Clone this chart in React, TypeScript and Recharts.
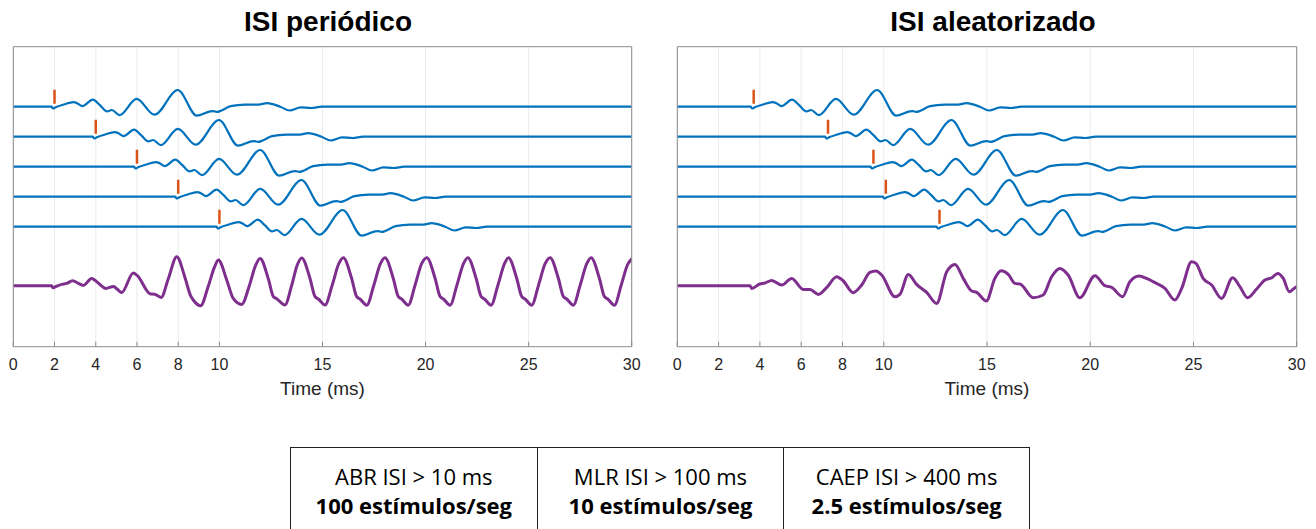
import React from 'react';
import { LineChart, Line, XAxis, YAxis, CartesianGrid, Label } from 'recharts';

// time axis (ms)
const xTicks = [0, 2, 4, 6, 8, 10, 15, 20, 25, 30];

// click times (ms) for the five single sweeps
const periodicOnsets = [2, 4, 6, 8, 10];
const randomOnsets = [3.7, 7.3, 9.5, 10.1, 12.7];

// response to a single click: [ms after click, amplitude]
const abrWave: [number, number][] = [
  [-0.15, 0], [-0.07, -1.8], [0.05, -0.6], [0.45, 2.2], [0.92, 4.5], [1.1, 3.5],
  [1.35, 0.6], [1.86, 7], [2.2, 1.5], [2.55, -4.6], [2.78, -3.3], [3.15, -8.5],
  [3.98, 7.8], [4.85, -8], [5.98, 16.7], [6.9, -9], [7.55, -4.7], [7.7, -4.4],
  [7.87, -5.2], [8.55, 0.5], [9.25, 2], [9.9, 2.1], [10.3, 3.5], [10.95, 0],
  [11.4, -3.8], [11.95, -0.7], [12.45, -1.3], [12.97, 0],
];

// recorded (overlapped) response, periodic ISI: [ms, amplitude]
const periodicSum: [number, number][] = [
  [0, 0], [1.86, 0], [1.92, -2], [2.1, -0.5], [2.35, 1.3], [2.59, 2.3], [2.88, 5],
  [3.16, 2.3], [3.4, 0.3], [3.8, 7.3], [4.05, 4], [4.5, -2.7], [4.85, -0.7],
  [5.26, -6.7], [5.82, 12.7], [6.02, 10], [6.63, -8], [6.88, -8.7], [7.17, -11.7],
  [7.52, 7], [7.93, 29], [8.33, 8], [8.6, -10], [8.73, -14.3], [9.09, -20],
  [9.45, -1], [9.75, 18], [9.95, 25.7], [10.35, 6], [10.67, -12.7], [11.08, -18.7],
  [11.45, 0], [11.75, 20], [11.97, 27.3], [12.37, 7], [12.62, -11], [12.78, -13],
  [13.18, -19.3], [13.5, 0], [13.78, 21], [13.99, 27.8], [14.39, 7.5], [14.64, -11],
  [14.8, -13.3], [15.12, -19.3], [15.47, 0.5], [15.79, 22], [16.01, 28],
  [16.41, 7.5], [16.66, -11], [16.82, -13.3], [17.15, -19.5], [17.49, 0.5],
  [17.81, 22], [18.03, 28], [18.43, 7.5], [18.68, -11], [18.84, -13.3],
  [19.16, -19.5], [19.49, 0.5], [19.81, 22], [20.06, 28], [20.46, 7.5],
  [20.71, -11], [20.87, -13.3], [21.19, -19.5], [21.52, 0.5], [21.84, 22],
  [22.05, 28], [22.45, 7.5], [22.7, -11], [22.86, -13.3], [23.18, -19.5],
  [23.51, 0.5], [23.83, 22], [24.02, 28], [24.42, 7.5], [24.67, -11],
  [24.83, -13.3], [25.15, -19.5], [25.48, 0.5], [25.8, 22], [26.04, 28],
  [26.44, 7.5], [26.69, -11], [26.85, -13.3], [27.17, -19.5], [27.5, 0.5],
  [27.82, 22], [28.03, 28], [28.43, 7.5], [28.68, -11], [28.84, -13.3],
  [29.16, -19.5], [29.49, 0.5], [29.8, 21], [30, 27],
];

// recorded (overlapped) response, randomized ISI: [ms, amplitude]
const randomSum: [number, number][] = [
  [0, 0], [3.52, 0], [3.6, -2.7], [4.0, 1.7], [4.25, 2.7], [4.57, 5.3], [5.06, 0.7],
  [5.54, 7.3], [6.1, -3.7], [6.43, -3.7], [6.83, -8.7], [7.23, -2], [7.72, 9],
  [8.04, 4.7], [8.52, -7], [8.93, 0.7], [9.33, 13.3], [9.62, 14.7], [9.9, 10.7],
  [10.54, -11], [10.78, -8.7], [11.19, 11.3], [11.59, 1.3], [12.08, -6.7],
  [12.56, -17.7], [13.05, 14], [13.45, 21.3], [13.85, 7.3], [14.26, -5.3],
  [14.5, -6.7], [14.97, -15.3], [15.38, 7.3], [15.68, 15], [16.03, 11.3],
  [16.35, 2.3], [16.6, 1.7], [17.24, -12], [17.72, -9.3], [18.13, 9], [18.53, 17.3],
  [18.93, 10.7], [19.5, -12], [20.23, 10], [20.71, 0], [21.04, -1.7], [21.57, -11],
  [21.92, 4], [22.37, 9.7], [22.73, 7.3], [23.05, 4], [23.62, -2.7], [24.1, -14.3],
  [24.43, -2.7], [24.91, 24], [25.12, 22.3], [25.47, 7.3], [25.88, 0.7],
  [26.36, -12.7], [26.9, 8], [27.25, -1], [27.62, -12], [28.06, -3.3], [28.46, 5.7],
  [28.79, 8], [29.08, 12.3], [29.35, 7.3], [29.64, -6], [29.92, -2], [30, -1],
];

const tableTop = ['ABR ISI > 10 ms', 'MLR ISI > 100 ms', 'CAEP ISI > 400 ms'];
const tableBottom = ['100 estímulos/seg', '10 estímulos/seg', '2.5 estímulos/seg'];

// layout: vertical offset of each sweep in the plot
const traceBase = [240, 210, 180, 150, 120];
const sumBase = 61;

const BLUE = '#0072BD';
const RED = '#D95319';
const PURPLE = '#7E2F8E';
const AXIS = '#8c8c8c';
const FONT = '"Liberation Sans", Arial, Helvetica, sans-serif';

const sweep = (onset: number, base: number) => [
  { t: 0, v: base },
  ...abrWave.map(([d, a]) => ({ t: onset + d, v: base + a })),
  { t: 30, v: base },
];

const marker = (onset: number, base: number) => [
  { t: onset, v: base + 3 },
  { t: onset, v: base + 17 },
];

interface PanelProps {
  title: string;
  titleX: number;
  onsets: number[];
  sum: [number, number][];
  left: number;
  width: number;
  margin: { top: number; right: number; bottom: number; left: number };
}

const Panel: React.FC<PanelProps> = ({ title, titleX, onsets, sum, left, width, margin }) => {
  const sumData = sum.map(([t, a]) => ({ t, v: sumBase + a }));
  return (
    <div style={{ position: 'absolute', left, top: 0, width, height: 420 }}>
      <div
        style={{
          position: 'absolute', left: titleX - left - 150, width: 300, top: 7, lineHeight: '30px',
          textAlign: 'center', fontFamily: FONT, fontWeight: 'bold', fontSize: 28, color: '#000',
        }}
      >
        {title}
      </div>
      <LineChart width={width} height={420} margin={margin}>
        <CartesianGrid horizontal={false} stroke="#ebebeb" />
        <XAxis
          xAxisId="top" orientation="top" type="number" dataKey="t" domain={[0, 30]}
          allowDataOverflow ticks={xTicks} interval={0} height={1} tick={false}
          tickSize={-5} stroke={AXIS}
        />
        <XAxis
          type="number" dataKey="t" domain={[0, 30]} allowDataOverflow ticks={xTicks}
          interval={0} height={50} tickSize={-5} tickMargin={17} stroke={AXIS}
          tick={{ fill: '#262626', fontSize: 16, fontFamily: FONT }}
        >
          <Label
            value="Time (ms)" position="insideBottom" offset={2}
            style={{ fill: '#262626', fontSize: 19, fontFamily: FONT }}
          />
        </XAxis>
        <YAxis
          type="number" domain={[0, 300]} allowDataOverflow width={1}
          tick={false} tickLine={false} stroke={AXIS}
        />
        <YAxis
          yAxisId="right" orientation="right" type="number" domain={[0, 300]} allowDataOverflow
          width={1} tick={false} tickLine={false} stroke={AXIS}
        />
        {onsets.map((on, i) => (
          <Line
            key={`s${i}`} data={sweep(on, traceBase[i])} dataKey="v" type="monotone"
            stroke={BLUE} strokeWidth={2.2} dot={false} activeDot={false} isAnimationActive={false}
          />
        ))}
        {onsets.map((on, i) => (
          <Line
            key={`m${i}`} xAxisId="top" data={marker(on, traceBase[i])} dataKey="v" type="linear"
            stroke={RED} strokeWidth={2.5} dot={false} activeDot={false} isAnimationActive={false}
          />
        ))}
        <Line
          yAxisId="right" data={sumData} dataKey="v" type="monotone" stroke={PURPLE} strokeWidth={3}
          dot={false} activeDot={false} isAnimationActive={false}
        />
      </LineChart>
    </div>
  );
};

const cellW = 740 / 3;

export default function App() {
  return (
    <div style={{ position: 'absolute', left: 0, top: 0, width: 1316, height: 529, background: '#fff', overflow: 'hidden' }}>
      <Panel
        title="ISI periódico" titleX={328} onsets={periodicOnsets} sum={periodicSum}
        left={0} width={660} margin={{ top: 45.7, left: 12.3, right: 27.3, bottom: 23.3 }}
      />
      <Panel
        title="ISI aleatorizado" titleX={993} onsets={randomOnsets} sum={randomSum}
        left={660} width={656} margin={{ top: 45.7, left: 16.3, right: 18.3, bottom: 23.3 }}
      />
      {tableTop.map((txt, i) => (
        <div
          key={txt}
          style={{
            position: 'absolute', left: 290 + i * cellW, top: 447, width: cellW, height: 100,
            boxSizing: 'border-box', borderTop: '1.5px solid #222', borderLeft: '1.5px solid #222',
            borderRight: i === 2 ? '1.5px solid #222' : 'none', paddingTop: 14,
            textAlign: 'center', fontFamily: '"Open Sans", Lato, sans-serif', fontSize: 22,
            lineHeight: '29px', color: '#000',
          }}
        >
          <div>{txt}</div>
          <div style={{ fontWeight: 'bold' }}>{tableBottom[i]}</div>
        </div>
      ))}
    </div>
  );
}
